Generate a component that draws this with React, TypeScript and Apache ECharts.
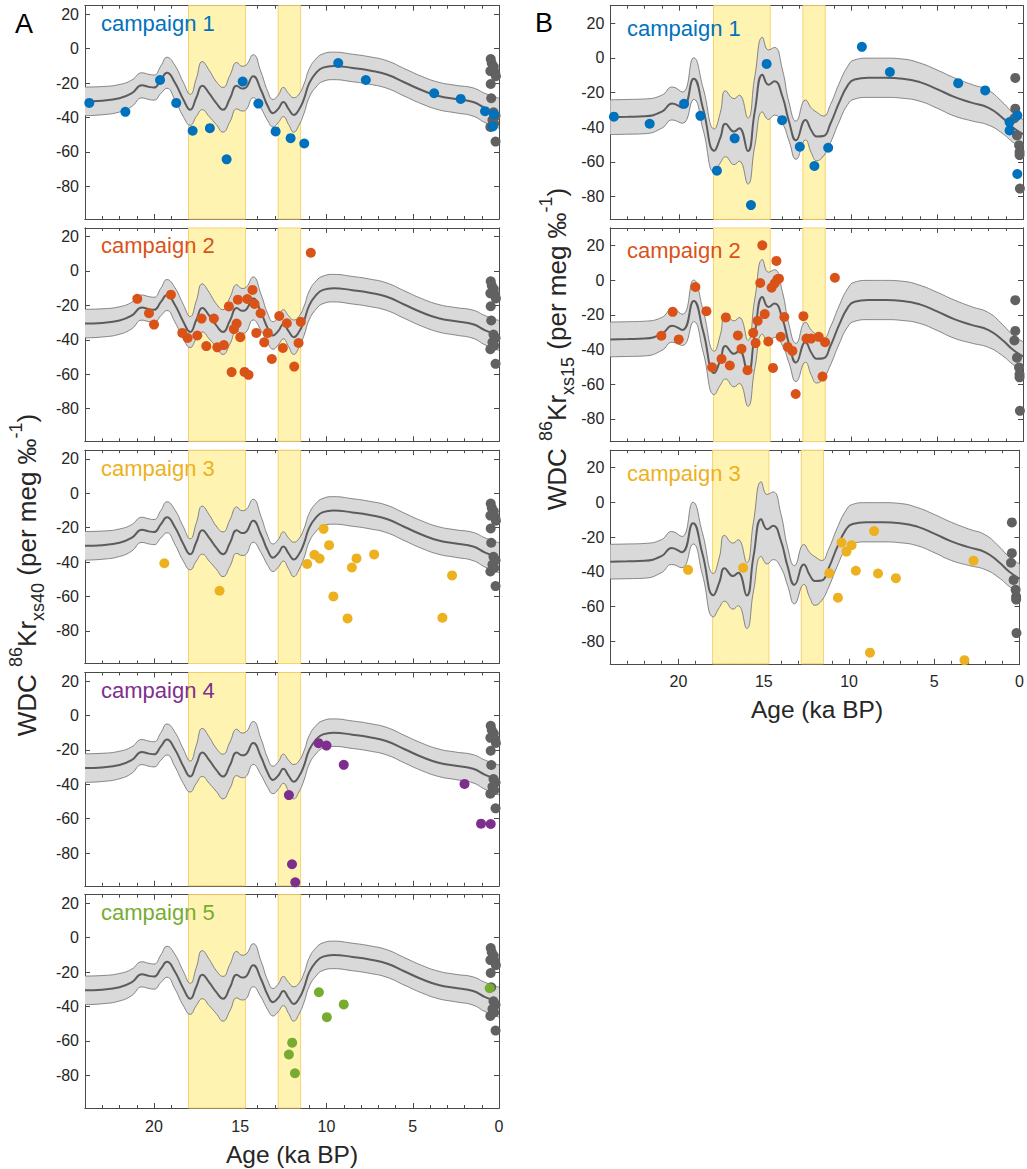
import React, { useEffect, useRef } from "react";
import * as echarts from "echarts";

// ---------- data ----------
const bandStart = [18.0, 12.8];
const bandEnd = [14.7, 11.5];

const yTickValues = [-80, -60, -40, -20, 0, 20];

// model curve, xs40 (panel A)
const modelA_age = [24, 23, 22, 21.3, 20.7, 20.3, 20.0, 19.6, 19.25, 18.8, 18.3, 17.9, 17.55, 17.2, 16.8, 16.4, 16.0, 15.6, 15.2, 14.9, 14.7, 14.25, 13.8, 13.4, 13.1, 12.8, 12.5, 12.2, 11.9, 11.6, 11.3, 11.0, 10.6, 10.2, 9.6, 8.5, 7.5, 6.5, 5.5, 4.5, 3.5, 2.5, 1.5, 0.8, 0];
const modelA_mean = [-30.6, -30.2, -28.8, -26, -21.3, -22.2, -22.6, -18, -14, -19.5, -29.5, -35.5, -28.5, -21.5, -26, -31.5, -35.5, -29, -21.5, -23.2, -22.8, -16, -24, -33.5, -37.5, -35, -31, -35, -38.5, -35.5, -29, -20, -14, -11, -10, -11.2, -12.7, -15, -19.5, -24, -27.5, -29.3, -31, -34.5, -37.5];
const modelA_halfWidth = [8.3, 8.2, 8, 7.7, 7.3, 7.3, 7.3, 8, 9, 10, 10, 9, 11, 14, 13.5, 12.5, 13, 13.5, 13.5, 13, 13, 12.5, 10.5, 8.5, 8, 8, 8.5, 9, 10, 9, 8.5, 8.3, 8.2, 8, 8, 8, 8, 8, 8, 8, 8, 8, 8.2, 8.5, 8.7];

// model curve, xs15 (panel B)
const modelB_age = [24, 23, 22, 21, 20.4, 19.8, 19.15, 18.6, 17.95, 17.6, 17.3, 16.8, 16.5, 16.0, 15.6, 15.15, 14.8, 14.45, 14.0, 13.6, 13.2, 12.65, 12.3, 12.0, 11.6, 11.2, 10.7, 10.2, 9.8, 9.0, 8.0, 7.0, 6.0, 5.0, 4.0, 3.0, 2.0, 1.2, 0.6, 0];
const modelB_mean = [-34.2, -34, -33.7, -31, -26.3, -28.7, -12, -29.5, -53.5, -46, -38, -42.5, -40.5, -53.7, -31, -9.7, -15.5, -13.5, -22, -37, -47.5, -35.8, -42, -45.3, -45, -38, -26, -16, -12.5, -11.5, -11.5, -12, -14, -18, -22.5, -25.8, -28.8, -34.5, -40, -44];
const modelB_halfWidth = [10, 10, 10, 9.5, 9.5, 9, 12, 12, 12.5, 14.5, 19, 19, 19, 19, 20, 21.5, 20, 19.5, 15.5, 11, 11, 11.5, 13, 14, 11.5, 11, 11, 11, 11.3, 11.3, 11.3, 11.3, 11, 11, 11, 10.5, 10, 9, 8.5, 8.5];

// gray reference dots near 0 ka
const grayA_age = [0.48, 0.42, 0.3, 0.5, 0.22, 0.18, 0.48, 0.45, 0.32, 0.2, 0.38, 0.28, 0.5, 0.2];
const grayA_val = [-6, -8.5, -10.5, -13, -14, -16, -20.5, -28.8, -37, -39, -41.5, -43.5, -45.5, -54];
const grayB_age = [0.45, 0.45, 0.5, 0.35, 0.23, 0.2, 0.2, 0.18];
const grayB_val = [-11.6, -29.3, -34.8, -44.7, -50.4, -54.3, -56, -75.3];

// campaigns, xs40
const a1_age = [23.75, 21.66, 19.65, 18.71, 17.76, 16.76, 15.79, 14.86, 13.95, 12.95, 12.08, 11.29, 9.32, 7.72, 3.76, 2.22, 0.81, 0.29, 0.36];
const a1_val = [-31.5, -36.7, -18.2, -31.5, -47.7, -46.2, -64.3, -19.1, -31.9, -48.1, -52, -55.1, -8.3, -18.2, -25.9, -29.2, -36.3, -38.3, -45.2];
const a2_age = [20.97, 20.29, 20.0, 19.02, 18.36, 18.05, 17.49, 17.24, 16.97, 16.53, 16.33, 15.95, 15.66, 15.5, 15.37, 15.21, 15.14, 15.0, 14.75, 14.59, 14.52, 14.29, 14.17, 14.07, 13.82, 13.61, 13.4, 13.17, 12.74, 12.53, 12.3, 11.87, 11.62, 11.49, 10.91];
const a2_val = [-16.2, -24.6, -31.2, -13.8, -36, -39, -37.5, -27.7, -43.7, -27.7, -44.4, -43.1, -20.6, -58.8, -33.8, -30.6, -16.7, -38.5, -58.7, -16.3, -60.4, -11, -19.2, -36, -24.6, -41.5, -36, -51.2, -26.2, -44.8, -30.4, -55.6, -41.9, -29.6, 10.6];
const a3_age = [19.4, 16.2, 11.12, 10.7, 10.4, 10.17, 9.85, 9.6, 8.78, 8.53, 8.26, 7.24, 3.28, 2.72];
const a3_val = [-40.7, -56.7, -41.1, -35.8, -38, -20.7, -30.2, -60, -72.8, -43.2, -37.9, -35.6, -72.4, -47.8];
const a4_age = [12.18, 12.0, 11.81, 10.46, 10.0, 9.0, 2.0, 1.04, 0.48];
const a4_val = [-46.3, -86.5, -97, -16.1, -17.5, -28.7, -39.8, -62.9, -63.1];
const a5_age = [12.18, 11.99, 11.83, 10.44, 9.98, 9.0, 0.54];
const a5_val = [-67.9, -61, -78.8, -31.7, -46.2, -38.8, -29.4];

// campaigns, xs15
const b1_age = [23.79, 21.71, 19.71, 18.76, 17.8, 16.77, 15.82, 14.91, 14.01, 12.98, 12.13, 11.33, 9.37, 7.74, 3.77, 2.2, 0.78, 0.78, 0.33, 0.33];
const b1_val = [-33.9, -38, -26.5, -33.4, -65, -46.4, -84.8, -3.5, -35.9, -51.2, -62.3, -51.8, 6.3, -8.2, -14.6, -18.8, -37, -41.8, -33.2, -66.9];
const b2_age = [21.03, 20.37, 20.02, 19.05, 18.41, 18.08, 17.53, 17.28, 17.05, 16.58, 16.37, 16.02, 15.69, 15.55, 15.43, 15.28, 15.16, 15.02, 14.81, 14.62, 14.54, 14.44, 14.34, 14.28, 14.19, 14.09, 13.88, 13.68, 13.41, 13.22, 12.77, 12.59, 12.32, 11.88, 11.66, 11.51, 10.94];
const b2_val = [-32.1, -18.3, -34.2, -4, -17.9, -50.2, -45.4, -21.5, -49.2, -31.9, -39.6, -51.9, -30.4, -36.3, -23.5, -1.7, 20, -19.6, -35.4, -4.4, -50.6, -1.9, 11, 0.4, 0.8, -32.7, -21.3, -38.5, -40.8, -65.6, -20.8, -33.7, -33.7, -32.7, -55.6, -35.8, 1.3];
const b3_age = [19.44, 16.21, 11.16, 10.65, 10.44, 10.15, 9.85, 9.6, 8.77, 8.53, 8.3, 7.25, 3.23, 2.7];
const b3_val = [-38.9, -37.7, -40.8, -54.9, -23.2, -28.4, -24.7, -39.4, -86.6, -16.6, -41, -43.7, -90.9, -33.6];

const campaignNames = ["campaign 1", "campaign 2", "campaign 3", "campaign 4", "campaign 5"];
const campaignColors = ["#0072BD", "#D95319", "#EDB120", "#7E2F8E", "#77AC30"];

// ---------- style ----------
const FONT = "'Liberation Sans', Arial, Helvetica, sans-serif";
const AX = "#4a4a4a";
const TXT = "#262626";
const BAND_FILL = "#FFF3B2";
const BAND_EDGE = "#F7D271";
const ENV_FILL = "#D9D9D9";
const ENV_EDGE = "#6b6b6b";
const MEAN = "#5c5c5c";
const GRAY_DOT = "#616161";

const zip = (a: number[], b: number[]) => a.map((v, i) => [v, b[i]]);

function buildOption() {
  const grid: any[] = [];
  const xAxis: any[] = [];
  const yAxis: any[] = [];
  const series: any[] = [];
  const graphic: any[] = [];

  const addPanel = (
    left: number, top: number, width: number, height: number,
    yMin: number, yMax: number,
    mAge: number[], mMean: number[], mHw: number[],
    gAge: number[], gVal: number[],
    cAge: number[], cVal: number[], cIdx: number,
    showX: boolean, labelX: number, labelDy: number
  ) => {
    const gi = grid.length;
    grid.push({ left, top, width, height, containLabel: false });
    const axisLine = { show: true, onZero: false, lineStyle: { color: AX, width: 1 } };
    const xc = { type: "value", gridIndex: gi, min: 0, max: 24, inverse: true, splitLine: { show: false }, axisLine };
    const xBase = xAxis.length;
    xAxis.push({
      ...xc, position: "bottom", interval: 5,
      axisTick: { show: true, inside: true, length: 5, lineStyle: { color: AX } },
      axisLabel: {
        show: showX, color: TXT, fontSize: 16, fontFamily: FONT, margin: 10,
        formatter: (v: number) => (v % 5 === 0 ? String(v) : ""),
      },
    });
    xAxis.push({ ...xc, position: "bottom", interval: 1, axisTick: { show: true, inside: true, length: 3, lineStyle: { color: AX } }, axisLabel: { show: false } });
    xAxis.push({ ...xc, position: "top", interval: 5, axisTick: { show: true, inside: true, length: 5, lineStyle: { color: AX } }, axisLabel: { show: false } });
    xAxis.push({ ...xc, position: "top", interval: 1, axisTick: { show: true, inside: true, length: 3, lineStyle: { color: AX } }, axisLabel: { show: false } });
    const yBase = yAxis.length;
    const yc = { type: "value", gridIndex: gi, min: yMin, max: yMax, splitLine: { show: false }, axisLine };
    yAxis.push({
      ...yc, position: "left",
      axisTick: { show: true, inside: true, length: 5, customValues: yTickValues, lineStyle: { color: AX } },
      axisLabel: {
        show: true, color: TXT, fontSize: 16, fontFamily: FONT, margin: 6, customValues: yTickValues,
        formatter: (v: number) => (v % 20 === 0 ? String(v) : ""),
      },
    });
    yAxis.push({
      ...yc, position: "right",
      axisTick: { show: true, inside: true, length: 5, customValues: yTickValues, lineStyle: { color: AX } },
      axisLabel: { show: false },
    });

    // shaded periods
    series.push({
      type: "custom", xAxisIndex: xBase, yAxisIndex: yBase, z: 1, silent: true,
      data: bandStart.map((s, i) => [s, bandEnd[i]]),
      renderItem: (params: any, api: any) => {
        const a = api.coord([api.value(0), yMin]);
        const b = api.coord([api.value(1), yMin]);
        const cs = params.coordSys;
        return {
          type: "rect",
          shape: { x: Math.min(a[0], b[0]), y: cs.y, width: Math.abs(b[0] - a[0]), height: cs.height },
          style: { fill: BAND_FILL, stroke: BAND_EDGE, lineWidth: 1 },
        };
      },
    });
    // envelope: lower bound + stacked width; data as [value, age] so that the stacked dimension is y
    const lower = mAge.map((a, i) => [mMean[i] - mHw[i], a]);
    const widthArr = mAge.map((a, i) => [2 * mHw[i], a]);
    series.push({
      type: "line", xAxisIndex: xBase, yAxisIndex: yBase, z: 2, silent: true,
      data: lower, encode: { x: 1, y: 0 },
      stack: "env" + gi, stackStrategy: "all", smooth: true, symbol: "none",
      lineStyle: { color: ENV_EDGE, width: 0.8 },
    });
    series.push({
      type: "line", xAxisIndex: xBase, yAxisIndex: yBase, z: 2, silent: true,
      data: widthArr, encode: { x: 1, y: 0 },
      stack: "env" + gi, stackStrategy: "all", smooth: true, symbol: "none",
      lineStyle: { color: ENV_EDGE, width: 0.8 },
      areaStyle: { color: ENV_FILL, opacity: 1 },
    });
    series.push({
      type: "line", xAxisIndex: xBase, yAxisIndex: yBase, z: 3, silent: true,
      data: zip(mAge, mMean), smooth: true, symbol: "none",
      lineStyle: { color: MEAN, width: 2 },
    });
    series.push({
      type: "scatter", xAxisIndex: xBase, yAxisIndex: yBase, z: 4, silent: true,
      data: zip(gAge, gVal), symbolSize: 10, itemStyle: { color: GRAY_DOT, opacity: 1 },
    });
    series.push({
      type: "scatter", xAxisIndex: xBase, yAxisIndex: yBase, z: 5, silent: true,
      data: zip(cAge, cVal), symbolSize: 10, itemStyle: { color: campaignColors[cIdx], opacity: 1 },
    });
    graphic.push({
      type: "text", left: labelX, top: top + labelDy - 12, z: 10, silent: true,
      style: { text: campaignNames[cIdx], fill: campaignColors[cIdx], fontSize: 22, fontFamily: FONT },
    });
  };

  const aCamp = [[a1_age, a1_val], [a2_age, a2_val], [a3_age, a3_val], [a4_age, a4_val], [a5_age, a5_val]];
  const bCamp = [[b1_age, b1_val], [b2_age, b2_val], [b3_age, b3_val]];
  const step = 222.25;
  aCamp.forEach((c, i) => {
    addPanel(85, 5.7 + i * step, 414, 213.3, -99, 25, modelA_age, modelA_mean, modelA_halfWidth,
      grayA_age, grayA_val, c[0], c[1], i, i === 4, 101, 19);
  });
  bCamp.forEach((c, i) => {
    addPanel(610.3, 5.7 + i * step, 412.7, 213.6, -93, 30, modelB_age, modelB_mean, modelB_halfWidth,
      grayB_age, grayB_val, c[0], c[1], i, i === 2, 627, 24);
  });

  const titleRich = {
    m: { fontSize: 26, fontFamily: FONT, fill: TXT, color: TXT, lineHeight: 40, verticalAlign: "middle" },
    sup: { fontSize: 18, fontFamily: FONT, fill: TXT, color: TXT, lineHeight: 18, verticalAlign: "top" },
    sub: { fontSize: 18, fontFamily: FONT, fill: TXT, color: TXT, lineHeight: 18, verticalAlign: "bottom" },
  };
  graphic.push({
    type: "text", x: 27, y: 575, rotation: Math.PI / 2, silent: true,
    style: {
      text: "{m|WDC }{sup|86}{m|Kr}{sub|xs40}{m| (per meg ‰}{sup|-1}{m|)}",
      rich: titleRich, align: "center", verticalAlign: "middle", fill: TXT,
    },
  });
  graphic.push({
    type: "text", x: 557, y: 349, rotation: Math.PI / 2, silent: true,
    style: {
      text: "{m|WDC }{sup|86}{m|Kr}{sub|xs15}{m| (per meg ‰}{sup|-1}{m|)}",
      rich: titleRich, align: "center", verticalAlign: "middle", fill: TXT,
    },
  });
  graphic.push({
    type: "text", x: 292, y: 1154, silent: true,
    style: { text: "Age (ka BP)", fontSize: 24.5, fontFamily: FONT, fill: TXT, align: "center", verticalAlign: "middle" },
  });
  graphic.push({
    type: "text", x: 817, y: 709, silent: true,
    style: { text: "Age (ka BP)", fontSize: 24.5, fontFamily: FONT, fill: TXT, align: "center", verticalAlign: "middle" },
  });
  graphic.push({
    type: "text", x: 24, y: 24, silent: true,
    style: { text: "A", fontSize: 27, fontFamily: FONT, fill: "#000", align: "center", verticalAlign: "middle" },
  });
  graphic.push({
    type: "text", x: 544, y: 23, silent: true,
    style: { text: "B", fontSize: 27, fontFamily: FONT, fill: "#000", align: "center", verticalAlign: "middle" },
  });

  return {
    animation: false,
    backgroundColor: "#ffffff",
    textStyle: { fontFamily: FONT },
    grid, xAxis, yAxis, series, graphic,
  };
}

export default function App() {
  const ref = useRef<HTMLDivElement>(null);
  useEffect(() => {
    if (!ref.current) return;
    const chart = echarts.init(ref.current, undefined, { renderer: "svg" });
    chart.setOption(buildOption() as any);
    return () => chart.dispose();
  }, []);
  return (
    <div
      ref={ref}
      style={{ position: "absolute", left: 0, top: 0, width: 1027, height: 1169, background: "#fff" }}
    />
  );
}
